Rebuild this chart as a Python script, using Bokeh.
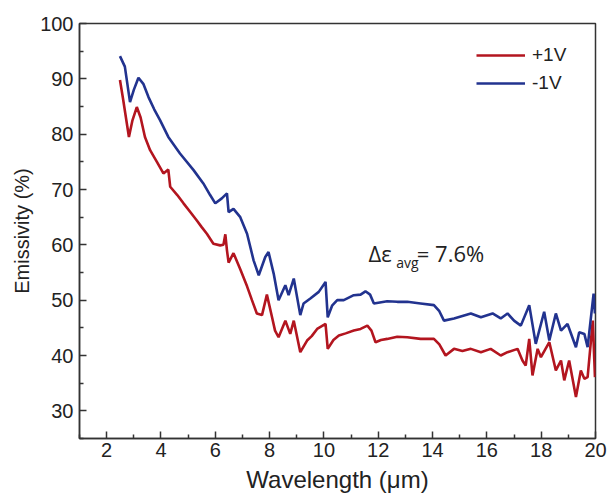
from bokeh.plotting import figure
from bokeh.models import Legend, LegendItem, Label, FixedTicker
from bokeh.embed import file_html
from bokeh.resources import INLINE

# +1V curve (red)
wl_pos = [2.49, 2.6, 2.82, 2.95, 3.11, 3.25, 3.41, 3.6, 3.85, 4.09, 4.27, 4.34, 4.6, 4.83, 5.1, 5.32, 5.5,
          5.69, 5.93, 6.18, 6.3, 6.37, 6.43, 6.49, 6.67, 6.92, 7.17, 7.35, 7.53, 7.72, 7.9, 8.09, 8.2, 8.33,
          8.58, 8.76, 8.89, 9.13, 9.38, 9.55, 9.75, 10.06, 10.14, 10.35, 10.55, 10.8, 11.1, 11.35, 11.6,
          11.75, 11.9, 12.1, 12.33, 12.7, 13.07, 13.56, 14.05, 14.25, 14.48, 14.79, 15.1, 15.41, 15.78,
          16.14, 16.51, 16.76, 17.13, 17.31, 17.43, 17.56, 17.68, 17.87, 17.99, 18.3, 18.54, 18.73, 18.85,
          19.03, 19.28, 19.46, 19.59, 19.71, 19.9, 19.98]
em_pos = [89.8, 86.5, 79.5, 82.5, 84.9, 83.0, 79.5, 77.1, 75.0, 72.9, 73.6, 70.5, 69.0, 67.5, 65.8, 64.4, 63.2,
          62.0, 60.2, 59.9, 60.0, 61.9, 59.0, 56.8, 58.5, 55.6, 52.5, 50.0, 47.6, 47.3, 51.0, 46.9, 44.5, 43.3,
          46.3, 43.9, 46.3, 40.6, 42.7, 43.5, 44.8, 45.7, 41.2, 42.8, 43.6, 44.0, 44.5, 44.8, 45.4,
          44.5, 42.4, 42.8, 43.0, 43.4, 43.3, 43.0, 43.0, 42.0, 40.0, 41.2, 40.8, 41.2, 40.6,
          41.2, 40.0, 40.6, 41.2, 39.1, 38.2, 43.0, 36.4, 41.2, 39.7, 42.4, 37.3, 39.1, 35.5,
          39.1, 32.5, 37.3, 35.8, 36.1, 46.3, 36.1]

# -1V curve (blue)
wl_neg = [2.49, 2.67, 2.86, 3.0, 3.17, 3.35, 3.54, 3.75, 3.97, 4.27, 4.7, 5.2, 5.56, 5.81, 6.0, 6.24, 6.43,
          6.49, 6.67, 6.92, 7.17, 7.41, 7.6, 7.84, 7.96, 8.15, 8.33, 8.58, 8.7, 8.89, 9.13, 9.25, 9.5, 9.81,
          10.06, 10.14, 10.3, 10.49, 10.73, 11.1, 11.35, 11.53, 11.7, 11.84, 12.33, 12.7, 13.07, 13.56, 14.05,
          14.25, 14.42, 14.79, 15.41, 15.78, 16.21, 16.51, 16.76, 17.0, 17.25, 17.56, 17.8, 18.11, 18.3,
          18.54, 18.73, 18.97, 19.28, 19.4, 19.59, 19.71, 19.93, 19.98]
em_neg = [94.1, 92.2, 85.8, 88.0, 90.2, 89.1, 86.7, 84.5, 82.5, 79.5, 76.5, 73.5, 71.1, 69.0, 67.5, 68.4, 69.3,
          65.9, 66.5, 65.0, 62.0, 57.2, 54.5, 57.8, 58.7, 54.8, 50.0, 52.7, 50.9, 53.9, 47.3, 49.4, 50.3, 51.5,
          53.3, 46.9, 49.0, 50.0, 50.0, 50.9, 51.0, 51.6, 51.0, 49.4, 49.8, 49.7, 49.7, 49.4, 49.1,
          48.0, 46.3, 46.7, 47.6, 46.9, 47.6, 46.7, 47.6, 46.3, 45.4, 49.1, 42.1, 47.9, 42.7,
          47.6, 44.5, 45.7, 41.5, 44.2, 43.9, 41.5, 51.2, 47.6]

labels = ["+1V", "-1V"]
x_ticks = [2, 4, 6, 8, 10, 12, 14, 16, 18, 20]
y_ticks = [30, 40, 50, 60, 70, 80, 90, 100]

RED = "#B3151F"
BLUE = "#22338F"
FONT = "Liberation Sans"

p = figure(width=610, height=501, output_backend="svg", toolbar_location=None,
           x_range=(1, 20), y_range=(25, 100),
           min_border_left=79, min_border_right=15, min_border_top=23, min_border_bottom=63)
p.background_fill_color = "white"
p.border_fill_color = "white"
p.grid.visible = False
p.outline_line_color = "#333333"
p.outline_line_width = 1.5

r1 = p.line(wl_pos, em_pos, line_color=RED, line_width=2.6)
r2 = p.line(wl_neg, em_neg, line_color=BLUE, line_width=2.6)

for ax in (p.xaxis[0], p.yaxis[0]):
    ax.axis_line_color = "#333333"
    ax.axis_line_width = 1.5
    ax.major_tick_line_color = "#333333"
    ax.minor_tick_line_color = "#333333"
    ax.major_tick_line_width = 1.5
    ax.minor_tick_line_width = 1.5
    ax.major_tick_in = 7
    ax.major_tick_out = 0
    ax.minor_tick_in = 4
    ax.minor_tick_out = 0
    ax.major_label_text_font = FONT
    ax.major_label_text_font_size = "20px"
    ax.major_label_text_color = "#222222"
    ax.axis_label_text_font = FONT
    ax.axis_label_text_font_style = "normal"
    ax.axis_label_text_color = "#222222"

p.xaxis.axis_label_text_font_size = "24px"
p.yaxis.axis_label_text_font_size = "20px"
p.xaxis.ticker = FixedTicker(ticks=x_ticks, minor_ticks=[1, 3, 5, 7, 9, 11, 13, 15, 17, 19])
p.yaxis.ticker = FixedTicker(ticks=y_ticks, minor_ticks=[25, 35, 45, 55, 65, 75, 85, 95])
p.xaxis.axis_label = "Wavelength (μm)"
p.yaxis.axis_label = "Emissivity (%)"
p.xaxis.major_label_standoff = 4
p.yaxis.major_label_standoff = 6
p.xaxis.axis_label_standoff = 6
p.yaxis.axis_label_standoff = 4

legend = Legend(items=[LegendItem(label=labels[0], renderers=[r1]),
                       LegendItem(label=labels[1], renderers=[r2])],
                location=(397, 344), orientation="vertical")
legend.border_line_color = None
legend.background_fill_alpha = 0
legend.padding = 0
legend.margin = 0
legend.spacing = 6
legend.glyph_width = 49
legend.glyph_height = 20
legend.label_height = 20
legend.label_standoff = 7
legend.label_text_font = FONT
legend.label_text_font_size = "19px"
legend.label_text_color = "#222222"
p.add_layout(legend)

ann_font = "Open Sans"
p.add_layout(Label(x=11.64, y=58.6, text="Δε", text_font=ann_font, text_font_size="22px",
                   text_color="#222222", text_baseline="alphabetic"))
p.add_layout(Label(x=12.66, y=56.8, text="avg", text_font=ann_font, text_font_size="14px",
                   text_color="#222222", text_baseline="alphabetic"))
p.add_layout(Label(x=13.42, y=58.6, text="= 7.6%", text_font=ann_font, text_font_size="22px",
                   text_color="#222222", text_baseline="alphabetic"))

open("out.html", "w").write(file_html(p, INLINE))
